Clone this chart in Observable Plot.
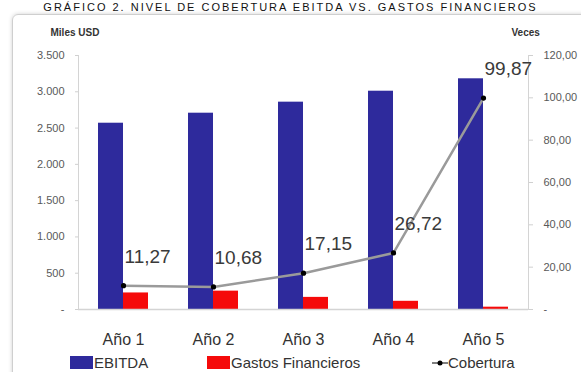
<!DOCTYPE html>
<html>
<head>
<meta charset="utf-8">
<script src="https://cdn.jsdelivr.net/npm/d3@7"></script>
<script src="https://cdn.jsdelivr.net/npm/@observablehq/plot@0.6"></script>
<style>
  html, body { margin: 0; padding: 0; background: #fff; overflow: hidden; }
  #wrap { position: relative; width: 581px; height: 372px; overflow: hidden; font-family: "Liberation Sans Narrow", "Liberation Sans", Arial, sans-serif; }
  #title { position: absolute; top: 1px; left: 0; width: 581px; text-align: center; white-space: nowrap; font-family: "Liberation Sans", Arial, sans-serif; font-size: 11px; line-height: 12px; letter-spacing: 2px; color: #111; }
  #box { position: absolute; left: 12px; top: 14px; width: 580px; height: 400px; border: 1px solid #cfcfcf; border-radius: 6px; box-shadow: 0 0 4px rgba(0,0,0,0.18); }
  #chart { position: absolute; left: 0; top: 0; }
  #legend { position: absolute; top: 354px; left: 0; width: 581px; height: 18px; font-size: 15px; line-height: 17px; color: #333; }
  .item { position: absolute; display: flex; align-items: center; white-space: nowrap; }
  .sw { display: inline-block; width: 23px; height: 13px; margin-right: 1px; }
</style>
</head>
<body>
<div id="wrap">
  <div id="title">GRÁFICO 2. NIVEL DE COBERTURA EBITDA VS. GASTOS FINANCIEROS</div>
  <div id="box"></div>
  <div id="chart"></div>
  <div id="legend"></div>
</div>
<script>
// ---- data ----
const years = ["Año 1", "Año 2", "Año 3", "Año 4", "Año 5"];
const ebitda = [2567, 2705, 2857, 3008, 3179];
const gastos = [228, 253, 167, 113, 32];
const cobertura = [11.27, 10.68, 17.15, 26.72, 99.87];
const leftTicks = [0, 500, 1000, 1500, 2000, 2500, 3000, 3500];
const rightTicks = [0, 20, 40, 60, 80, 100, 120];
const seriesNames = ["EBITDA", "Gastos Financieros", "Cobertura"];
const colors = ["#2E2A9C", "#F50A0A", "#9a9a9a"];

const leftMax = 3500, rightMax = 120;
const k = leftMax / rightMax;

const rows = years.map((y, i) => ({year: y, ebitda: ebitda[i], gastos: gastos[i], cob: cobertura[i]}));

const loc = d3.formatLocale({decimal: ",", thousands: ".", grouping: [3], currency: ["", ""]});
const fLeft = d => d === 0 ? "-" : loc.format(",d")(d);
const fRight = d => d === 0 ? "-" : loc.format(",.2f")(d);

const chart = Plot.plot({
  width: 581,
  height: 372,
  marginLeft: 78,
  marginRight: 53,
  marginTop: 55,
  marginBottom: 63,
  style: {background: "transparent", fontFamily: "'Liberation Sans Narrow', 'Liberation Sans', Arial, sans-serif"},
  x: {domain: years, paddingInner: 0.4444, paddingOuter: 0.2222},
  y: {domain: [0, leftMax]},
  marks: [
    Plot.barY(rows, {x: "year", y: "ebitda", fill: colors[0], insetRight: 25, insetLeft: 0}),
    Plot.barY(rows, {x: "year", y: "gastos", fill: colors[1], insetLeft: 25, insetRight: 0}),
    Plot.frame({anchor: "left", stroke: "#d4d4d4"}),
    Plot.frame({anchor: "right", stroke: "#d4d4d4"}),
    Plot.ruleY([0], {stroke: "#d4d4d4", strokeWidth: 1.5}),
    Plot.axisY(leftTicks, {anchor: "left", tickFormat: fLeft, tickSize: 3, tickPadding: 11, stroke: "#d0d0d0", fill: "#595959", fontSize: 11, label: null}),
    Plot.axisY(rightTicks.map(v => v * k), {anchor: "right", tickFormat: d => fRight(d / k), tickSize: 4, tickPadding: 11, stroke: "#d0d0d0", fill: "#595959", fontSize: 11, label: null}),
    Plot.axisX({tickSize: 0, tickPadding: 24, fontSize: 16, fill: "#333", label: null}),
    Plot.line(rows, {x: "year", y: d => d.cob * k, stroke: colors[2], strokeWidth: 2.5}),
    Plot.dot(rows, {x: "year", y: d => d.cob * k, fill: "#000", r: 2.6}),
    Plot.text(rows, {x: "year", y: d => d.cob * k, text: d => loc.format(",.2f")(d.cob), textAnchor: "start", dx: 1, dy: -29, fontSize: 19, fill: "#3a3a3a"}),
    Plot.text(["Miles USD"], {frameAnchor: "top-left", dx: -28, dy: -27, fontSize: 10, fontWeight: "bold", fill: "#333", textAnchor: "start"}),
    Plot.text(["Veces"], {frameAnchor: "top-right", dx: -17, dy: -27, fontSize: 10, fontWeight: "bold", fill: "#333", textAnchor: "start"})
  ]
});
document.getElementById("chart").appendChild(chart);

// legend
const legend = document.getElementById("legend");
const lefts = [70, 207, 432];
seriesNames.forEach((name, i) => {
  const it = document.createElement("div");
  it.className = "item";
  it.style.left = lefts[i] + "px";
  if (i < 2) {
    const sw = document.createElement("span");
    sw.className = "sw";
    sw.style.background = colors[i];
    it.appendChild(sw);
  } else {
    const svg = document.createElementNS("http://www.w3.org/2000/svg", "svg");
    svg.setAttribute("width", 16); svg.setAttribute("height", 14);
    svg.innerHTML = `<line x1="0" y1="7" x2="16" y2="7" stroke="#555" stroke-width="1.5"/><circle cx="8" cy="7" r="2.5" fill="#000"/>`;
    it.appendChild(svg);
  }
  const t = document.createElement("span");
  t.textContent = name;
  it.appendChild(t);
  legend.appendChild(it);
});
</script>
</body>
</html>
